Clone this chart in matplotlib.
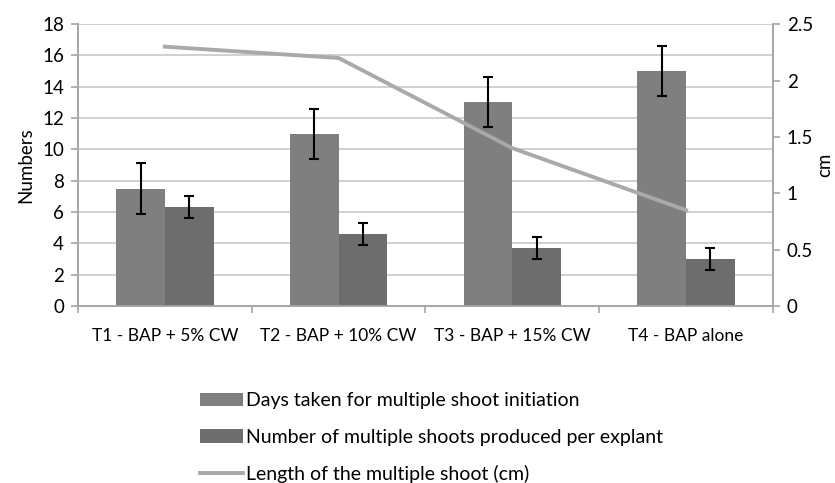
import matplotlib
matplotlib.use('Agg')
import matplotlib.pyplot as plt
import numpy as np

plt.rcParams['font.family'] = ['Lato', 'DejaVu Sans']

categories = ['T1 - BAP + 5% CW', 'T2 - BAP + 10% CW', 'T3 - BAP + 15% CW', 'T4 - BAP alone']
days = [7.5, 11.0, 13.0, 15.0]
days_err = [1.6, 1.6, 1.6, 1.6]
shoots = [6.3, 4.6, 3.7, 3.0]
shoots_err = [0.7, 0.7, 0.7, 0.7]
length_cm = [2.3, 2.2, 1.4, 0.85]

labels = ['Days taken for multiple shoot initiation',
          'Number of multiple shoots produced per explant',
          'Length of the multiple shoot (cm)']

axcol = '#a6a6a6'
fs = 13.5
fig = plt.figure(figsize=(8.35, 4.83), dpi=100)
ax1 = fig.add_axes([0.0934, 0.3665, 0.8323, 0.5835])
ax2 = ax1.twinx()

x = np.arange(len(categories))
w = 0.28
b1 = ax1.bar(x - w/2, days, w, color='#7f7f7f', zorder=3, label=labels[0])
b2 = ax1.bar(x + w/2, shoots, w, color='#6d6d6d', zorder=3, label=labels[1])
ax1.errorbar(x - w/2, days, yerr=days_err, fmt='none', ecolor='black',
             elinewidth=1.5, capsize=3.5, capthick=1.5, zorder=4)
ax1.errorbar(x + w/2, shoots, yerr=shoots_err, fmt='none', ecolor='black',
             elinewidth=1.5, capsize=3.5, capthick=1.5, zorder=4)
ln, = ax2.plot(x, length_cm, color='#a9a9a9', lw=2.8, label=labels[2])

ax1.set_xlim(-0.5, len(categories) - 0.5)
ax1.set_ylim(0, 18)
ax1.set_yticks(range(0, 19, 2))
ax2.set_ylim(0, 2.5)
ax2.set_yticks([0, 0.5, 1, 1.5, 2, 2.5])
ax2.set_yticklabels(['0', '0.5', '1', '1.5', '2', '2.5'])
ax1.yaxis.grid(True, color='#c8c8c8', lw=1.2, zorder=0)
ax1.set_axisbelow(True)

ax1.set_xticks(x)
ax1.set_xticklabels(categories)
ax1.set_xticks(np.arange(len(categories) + 1) - 0.5, minor=True)
ax1.tick_params(axis='x', which='major', length=0, pad=16, labelsize=12.5)
ax1.tick_params(axis='x', which='minor', length=5, color=axcol, width=1.2)
ax1.tick_params(axis='y', length=5, color=axcol, width=1.2, labelsize=fs, pad=5)
ax2.tick_params(axis='y', length=5, color=axcol, width=1.2, labelsize=fs, pad=5)

for a in (ax1, ax2):
    a.spines['top'].set_visible(False)
    for s in ('left', 'right', 'bottom'):
        a.spines[s].set_color(axcol)
        a.spines[s].set_linewidth(1.2)

ax1.set_ylabel('Numbers', fontsize=fs, labelpad=6)
ax2.set_ylabel('cm', fontsize=fs, labelpad=2)

fig.legend([b1, b2, ln], labels, loc='upper left', bbox_to_anchor=(0.2395, 0.188),
           frameon=False, fontsize=14, handlelength=2.2, handleheight=0.7,
           handletextpad=0.15, labelspacing=1.0, borderpad=0, borderaxespad=0)

fig.savefig('out.png', dpi=100)
